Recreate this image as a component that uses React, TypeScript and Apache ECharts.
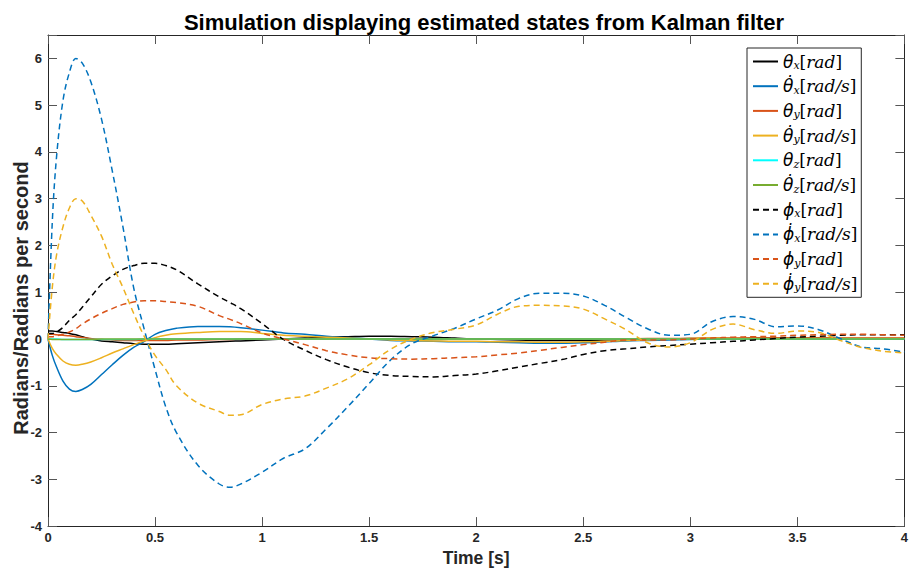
import React, { useEffect, useRef } from "react";
import * as echarts from "echarts";

// Time samples [s]
const T = [0, 0.02, 0.04, 0.07, 0.1, 0.13, 0.16, 0.2, 0.25, 0.3, 0.35, 0.4, 0.45, 0.5, 0.55, 0.6, 0.7, 0.8, 0.85, 0.9, 1.0, 1.1, 1.2, 1.3, 1.4, 1.5, 1.6, 1.7, 1.8, 1.9, 2.0, 2.1, 2.2, 2.3, 2.4, 2.5, 2.6, 2.7, 2.8, 2.9, 3.0, 3.1, 3.2, 3.3, 3.4, 3.5, 3.6, 3.7, 3.8, 3.9, 4.0];

const thetaX = [0.17, 0.17, 0.16, 0.14, 0.12, 0.09, 0.05, 0.0, -0.04, -0.06, -0.08, -0.1, -0.11, -0.11, -0.11, -0.1, -0.08, -0.06, -0.05, -0.04, -0.02, 0.0, 0.02, 0.04, 0.05, 0.06, 0.06, 0.05, 0.04, 0.02, 0.0, -0.01, -0.02, -0.03, -0.03, -0.03, -0.02, -0.01, 0.0, 0.0, 0.01, 0.01, 0.01, 0.02, 0.02, 0.02, 0.02, 0.01, 0.01, 0.01, 0.01];
const dThetaX = [0.0, -0.35, -0.6, -0.9, -1.07, -1.12, -1.08, -0.97, -0.76, -0.55, -0.35, -0.18, -0.05, 0.1, 0.18, 0.23, 0.27, 0.27, 0.26, 0.24, 0.19, 0.13, 0.1, 0.06, 0.03, 0.0, -0.03, -0.04, -0.05, -0.06, -0.06, -0.07, -0.08, -0.09, -0.09, -0.08, -0.06, -0.04, -0.03, -0.02, -0.01, 0.0, 0.0, 0.0, 0.0, 0.0, 0.0, 0.0, 0.0, 0.0, 0.0];
const thetaY = [0.1, 0.1, 0.09, 0.08, 0.07, 0.05, 0.03, 0.01, -0.01, -0.02, -0.03, -0.03, -0.03, -0.03, -0.03, -0.02, -0.02, -0.01, -0.01, 0.0, 0.0, 0.0, 0.0, 0.0, 0.0, 0.0, 0.0, 0.0, 0.0, 0.0, 0.0, 0.0, 0.0, 0.0, 0.0, 0.0, 0.0, 0.0, 0.01, 0.01, 0.01, 0.02, 0.02, 0.02, 0.02, 0.02, 0.02, 0.02, 0.02, 0.02, 0.02];
const dThetaY = [0.0, -0.2, -0.33, -0.47, -0.54, -0.56, -0.54, -0.49, -0.4, -0.3, -0.21, -0.12, -0.04, 0.03, 0.08, 0.11, 0.14, 0.16, 0.16, 0.16, 0.12, 0.08, 0.06, 0.04, 0.02, 0.0, -0.02, -0.03, -0.04, -0.05, -0.05, -0.06, -0.06, -0.07, -0.07, -0.06, -0.05, -0.03, -0.02, 0.0, 0.01, 0.02, 0.01, 0.01, 0.01, 0.01, 0.01, 0.01, 0.01, 0.01, 0.01];
const thetaZ = [0.0, 0.0, 0.0, -0.01, -0.01, -0.01, -0.01, -0.01, -0.01, -0.01, -0.01, -0.01, 0.0, 0.0, 0.0, 0.0, 0.0, 0.0, 0.0, 0.0, 0.0, 0.0, 0.0, 0.0, 0.0, 0.0, 0.0, 0.0, 0.0, 0.0, 0.0, 0.0, 0.0, 0.0, 0.0, 0.0, 0.0, 0.0, 0.0, 0.0, 0.0, 0.0, 0.0, 0.0, 0.0, 0.0, 0.0, 0.0, 0.0, 0.0, 0.0];
const dThetaZ = [0.0, -0.01, -0.01, -0.01, -0.01, -0.01, -0.01, -0.01, 0.0, 0.0, 0.0, 0.0, 0.0, 0.0, 0.0, 0.0, 0.0, 0.0, 0.0, 0.0, 0.0, 0.0, 0.0, 0.0, 0.0, 0.0, 0.0, 0.0, 0.0, 0.0, 0.0, 0.0, 0.0, 0.0, 0.0, 0.0, 0.0, 0.0, 0.0, 0.0, 0.0, 0.0, 0.0, 0.0, 0.0, 0.0, 0.0, 0.0, 0.0, 0.0, 0.0];
const phiX = [0.12, 0.12, 0.15, 0.25, 0.4, 0.52, 0.68, 0.9, 1.17, 1.35, 1.49, 1.57, 1.62, 1.62, 1.57, 1.48, 1.18, 0.9, 0.78, 0.65, 0.33, -0.01, -0.24, -0.44, -0.6, -0.72, -0.78, -0.8, -0.81, -0.78, -0.75, -0.68, -0.6, -0.52, -0.44, -0.33, -0.25, -0.21, -0.17, -0.14, -0.11, -0.08, -0.05, -0.02, 0.01, 0.04, 0.06, 0.08, 0.09, 0.09, 0.09];
const dPhiX = [0.0, 2.5, 3.9, 5.1, 5.7, 6.0, 5.9, 5.5, 4.7, 3.6, 2.4, 1.1, 0.2, -0.65, -1.45, -2.0, -2.7, -3.1, -3.17, -3.1, -2.85, -2.55, -2.35, -1.92, -1.45, -0.95, -0.45, -0.1, 0.07, 0.23, 0.43, 0.62, 0.87, 0.98, 0.98, 0.92, 0.72, 0.46, 0.22, 0.08, 0.1, 0.37, 0.48, 0.42, 0.26, 0.28, 0.2, 0.01, -0.17, -0.21, -0.28];
const phiY = [0.05, 0.05, 0.07, 0.1, 0.15, 0.22, 0.32, 0.43, 0.55, 0.65, 0.74, 0.79, 0.82, 0.82, 0.8, 0.78, 0.7, 0.5, 0.42, 0.33, 0.13, 0.0, -0.12, -0.25, -0.34, -0.4, -0.42, -0.43, -0.42, -0.4, -0.38, -0.34, -0.3, -0.24, -0.18, -0.12, -0.07, -0.02, -0.02, -0.02, 0.0, 0.02, 0.04, 0.05, 0.06, 0.08, 0.09, 0.1, 0.1, 0.09, 0.08];
const dPhiY = [0.0, 1.1, 1.8, 2.4, 2.8, 3.0, 2.95, 2.65, 2.2, 1.6, 1.1, 0.55, 0.05, -0.35, -0.65, -1.0, -1.37, -1.55, -1.63, -1.62, -1.4, -1.28, -1.22, -1.05, -0.85, -0.55, -0.22, 0.0, 0.14, 0.21, 0.3, 0.53, 0.7, 0.72, 0.71, 0.64, 0.43, 0.2, -0.08, -0.17, -0.08, 0.2, 0.32, 0.2, 0.12, 0.17, 0.14, -0.03, -0.18, -0.26, -0.3];

// Legend labels: symbol, subscript, unit
const SYMBOLS = ["θ", "θ\u0307", "θ", "θ\u0307", "θ", "θ\u0307", "ϕ", "ϕ\u0307", "ϕ", "ϕ\u0307"];
const SUBS = ["x", "x", "y", "y", "z", "z", "x", "x", "y", "y"];
const UNITS = ["rad", "rad/s", "rad", "rad/s", "rad", "rad/s", "rad", "rad/s", "rad", "rad/s"];
const VALUES = [thetaX, dThetaX, thetaY, dThetaY, thetaZ, dThetaZ, phiX, dPhiX, phiY, dPhiY];
const COLORS = ["#000000", "#0072BD", "#D95319", "#EDB120", "#00FFFF", "#77AC30", "#000000", "#0072BD", "#D95319", "#EDB120"];
const DASHED = [false, false, false, false, false, false, true, true, true, true];

const NAMES = SYMBOLS.map((s, i) => `${s}${SUBS[i]}[${UNITS[i]}]`);

const TITLE = "Simulation displaying estimated states from Kalman filter";
const X_NAME = "Time [s]";
const Y_NAME = "Radians/Radians per second";

export default function App() {
  const ref = useRef<HTMLDivElement>(null);
  useEffect(() => {
    if (!ref.current) return;
    const chart = echarts.init(ref.current, null, { renderer: "svg" });
    const axisColor = "#262626";
    const labelFont = { fontFamily: "Liberation Sans", fontWeight: "bold" as const, fontSize: 13, color: axisColor };
    const serif = "DejaVu Serif";
    const rich = {
      m: { fontFamily: "DejaVu Sans", fontStyle: "italic", fontSize: 17, lineHeight: 20, color: "#000" },
      g: { fontFamily: serif, fontStyle: "italic", fontSize: 17, lineHeight: 20, color: "#000" },
      s: { fontFamily: serif, fontStyle: "italic", fontSize: 11, lineHeight: 20, color: "#000", padding: [8, 0, 0, 0] },
      b: { fontFamily: serif, fontSize: 17, lineHeight: 20, color: "#000" },
    };
    chart.setOption({
      animation: false,
      backgroundColor: "#ffffff",
      title: {
        text: TITLE,
        left: 479,
        textAlign: "center",
        top: 6,
        textStyle: { fontFamily: "Liberation Sans", fontWeight: "bold", fontSize: 22, color: "#000" },
      },
      grid: { left: 48, right: 1, top: 35, bottom: 41, containLabel: false },
      graphic: [
        {
          type: "text",
          x: 21,
          y: 298,
          rotation: Math.PI / 2,
          style: {
            text: Y_NAME,
            align: "center",
            verticalAlign: "middle",
            font: 'bold 20px "Liberation Sans"',
            fill: axisColor,
          },
        },
      ],
      legend: {
        orient: "vertical",
        left: 747,
        top: 48,
        padding: [4, 4, 4, 5],
        itemWidth: 25,
        itemHeight: 14,
        itemGap: 5.7,
        backgroundColor: "#ffffff",
        borderColor: axisColor,
        borderWidth: 1,
        borderRadius: 0,
        itemStyle: { color: "rgba(0,0,0,0)", borderColor: "rgba(0,0,0,0)", borderWidth: 0 },
        data: NAMES,
        formatter: (name: string) => {
          const i = NAMES.indexOf(name);
          return `{m|${SYMBOLS[i]}}{s|${SUBS[i]}}{b|[}{g|${UNITS[i]}}{b|]}`;
        },
        textStyle: { rich },
      },
      xAxis: [
        {
          type: "value",
          min: 0,
          max: 4,
          interval: 0.5,
          name: X_NAME,
          nameLocation: "middle",
          nameGap: 16,
          nameTextStyle: { fontFamily: "Liberation Sans", fontWeight: "bold", fontSize: 17.5, color: axisColor },
          axisLine: { show: true, onZero: false, lineStyle: { color: axisColor, width: 1 } },
          axisTick: { show: true, inside: true, length: 9, lineStyle: { color: "#555", width: 1 } },
          axisLabel: { ...labelFont, margin: 5 },
          splitLine: { show: false },
        },
        {
          type: "value",
          position: "top",
          min: 0,
          max: 4,
          interval: 0.5,
          axisLine: { show: true, onZero: false, lineStyle: { color: axisColor, width: 1 } },
          axisTick: { show: true, inside: true, length: 9, lineStyle: { color: "#555", width: 1 } },
          axisLabel: { show: false },
          splitLine: { show: false },
        },
      ],
      yAxis: [
        {
          type: "value",
          min: -4,
          max: 6.5,
          interval: 1,
          axisLine: { show: true, onZero: false, lineStyle: { color: axisColor, width: 1 } },
          axisTick: { show: true, inside: true, length: 9, lineStyle: { color: "#555", width: 1 } },
          axisLabel: {
            ...labelFont,
            margin: 6,
            formatter: (v: number) => (Number.isInteger(v) ? String(v) : ""),
          },
          splitLine: { show: false },
        },
        {
          type: "value",
          position: "right",
          min: -4,
          max: 6.5,
          interval: 1,
          axisLine: { show: true, onZero: false, lineStyle: { color: axisColor, width: 1 } },
          axisTick: { show: true, inside: true, length: 9, lineStyle: { color: "#555", width: 1 } },
          axisLabel: { show: false },
          splitLine: { show: false },
        },
      ],
      series: VALUES.map((vals, i) => ({
        name: NAMES[i],
        type: "line",
        xAxisIndex: 0,
        yAxisIndex: 0,
        data: T.map((t, k) => [t, vals[k]]),
        symbol: "none",
        showSymbol: false,
        smooth: 0.35,
        color: COLORS[i],
        lineStyle: { color: COLORS[i], width: 1.5, type: DASHED[i] ? [6, 4] : "solid" },
        emphasis: { disabled: true },
      })),
    });
    return () => chart.dispose();
  }, []);
  return <div ref={ref} style={{ width: 911, height: 572, position: "absolute", left: 0, top: 0 }} />;
}
